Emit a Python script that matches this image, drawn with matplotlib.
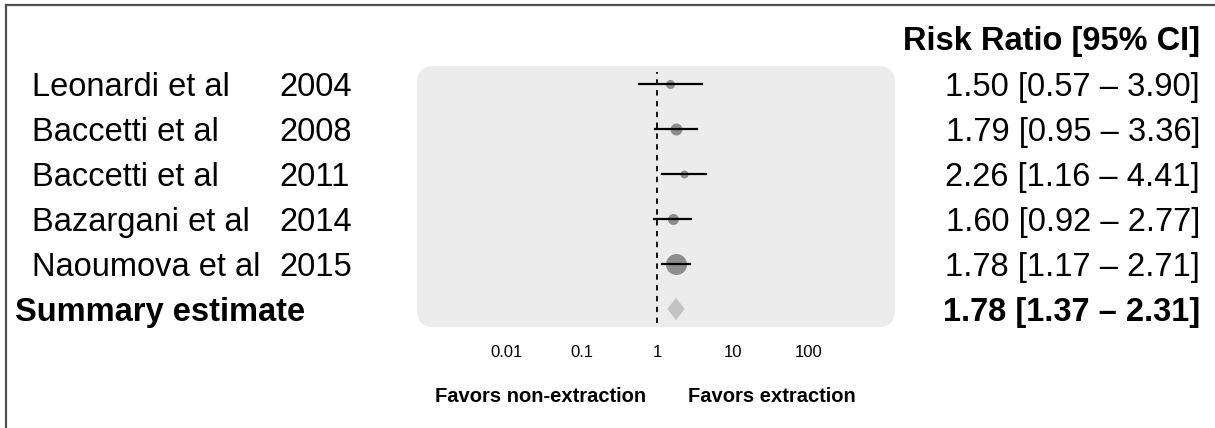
import matplotlib.pyplot as plt
import matplotlib.transforms as mtransforms
from matplotlib.patches import FancyBboxPatch
from matplotlib.lines import Line2D

plt.rcParams['font.family'] = ['Liberation Sans', 'DejaVu Sans']

# Study data
authors = ['Leonardi et al', 'Baccetti et al', 'Baccetti et al', 'Bazargani et al', 'Naoumova et al']
years = ['2004', '2008', '2011', '2014', '2015']
rr = [1.50, 1.79, 2.26, 1.60, 1.78]
ci_low = [0.57, 0.95, 1.16, 0.92, 1.17]
ci_high = [3.90, 3.36, 4.41, 2.77, 2.71]

summary_rr = 1.78
summary_low = 1.37
summary_high = 2.31

xticks = [0.01, 0.1, 1, 10, 100]
xticklabels = ['0.01', '0.1', '1', '10', '100']

# marker diameters in pixels (study weight)
marker_px = [9, 12, 8, 11, 21]

W, H = 1215, 428
fig = plt.figure(figsize=(W / 100, H / 100), dpi=100)

# axes placed over the grey panel
ax = fig.add_axes([417 / W, 1 - 327 / H, 478 / W, 261 / H])
ax.set_xscale('log')
ax.set_xlim(10 ** -3.18, 10 ** 3.15)
ax.set_ylim(0.6, 6.4)
ax.patch.set_visible(False)
for s in ax.spines.values():
    s.set_visible(False)

panel = FancyBboxPatch((0, 0), 1, 1, boxstyle='round,pad=0,rounding_size=0.035',
                       transform=ax.transAxes, facecolor='#ececec', edgecolor='none',
                       mutation_aspect=478 / 261, zorder=0)
ax.add_patch(panel)

rows = [6, 5, 4, 3, 2]
ax.vlines(1, 0.7, 6.27, colors='black', linestyles=(0, (3, 3)), linewidth=1.3, zorder=2)

for i, y in enumerate(rows):
    ax.plot(rr[i], y, 'o', color='#8e8e8e', markersize=marker_px[i] * 0.72,
            markeredgewidth=0, zorder=3)
    ax.plot([ci_low[i], ci_high[i]], [y, y], color='black', linewidth=1.6, zorder=4)

ax.fill([summary_low, summary_rr, summary_high, summary_rr],
        [1, 1.25, 1, 0.75], color='#c3c3c3', linewidth=0, zorder=3)

ax.set_xticks(xticks)
ax.set_xticklabels(xticklabels, fontsize=12)
ax.xaxis.set_minor_locator(plt.NullLocator())
ax.tick_params(axis='x', length=0, pad=13)
ax.set_yticks([])

# text columns: x in figure pixels, y in data rows
tr_left = mtransforms.blended_transform_factory(fig.transFigure, ax.transData)
for i, y in enumerate(rows):
    ax.text(32 / W, y, authors[i], transform=tr_left, fontsize=23.5, ha='left', va='center_baseline')
    ax.text(279 / W, y, years[i], transform=tr_left, fontsize=23.5, ha='left', va='center_baseline')
    ax.text(1200 / W, y, f'{rr[i]:.2f} [{ci_low[i]:.2f} \u2013 {ci_high[i]:.2f}]',
            transform=tr_left, fontsize=23.5, ha='right', va='center_baseline')

ax.text(15 / W, 1, 'Summary estimate', transform=tr_left, fontsize=23.5,
        fontweight='bold', ha='left', va='center_baseline')
ax.text(1200 / W, 1, f'{summary_rr:.2f} [{summary_low:.2f} \u2013 {summary_high:.2f}]',
        transform=tr_left, fontsize=23.5, fontweight='bold', ha='right', va='center_baseline')
ax.text(1200 / W, 7.02, 'Risk Ratio [95% CI]', transform=tr_left, fontsize=23.5,
        fontweight='bold', ha='right', va='center_baseline')

fig.text(541 / W, 1 - 395 / H, 'Favors non-extraction', fontsize=14.5,
         fontweight='bold', ha='center', va='center_baseline')
fig.text(772 / W, 1 - 395 / H, 'Favors extraction', fontsize=14.5,
         fontweight='bold', ha='center', va='center_baseline')

# frame on the left and top edge
fig.add_artist(Line2D([6 / W, 6 / W], [0, 1 - 5 / H], color='#505050', linewidth=1.6,
                      transform=fig.transFigure))
fig.add_artist(Line2D([6 / W, 1], [1 - 5 / H, 1 - 5 / H], color='#505050', linewidth=1.6,
                      transform=fig.transFigure))

fig.savefig('out.png', dpi=100, facecolor='white')
